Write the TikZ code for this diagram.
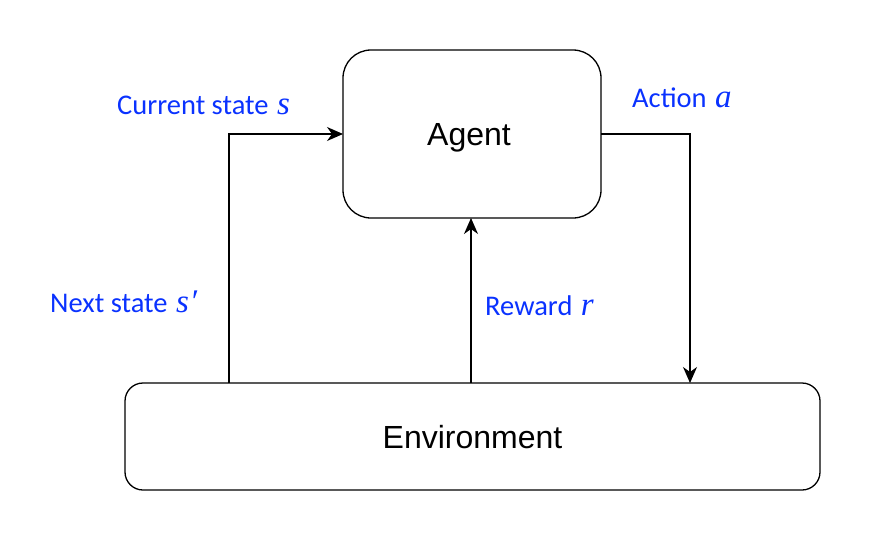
\documentclass[tikz,border=0pt]{standalone}
\usepackage{fontspec}
\setmainfont{Carlito}
\newfontfamily\arialfont{Liberation Sans}
\newfontfamily\varfont{Liberation Serif}
\usetikzlibrary{arrows.meta}
\definecolor{lblue}{RGB}{10,50,255}
\newcommand{\mvar}[1]{{\varfont\itshape\fontsize{33}{36}\selectfont #1}}
\tikzset{
  boxstyle/.style={draw, line width=1.3pt, rounded corners=#1, inner sep=0pt},
  conn/.style={line width=1.3pt, -{Stealth[length=16pt,width=14pt,inset=5pt]}},
  lbl/.style={text=lblue, font=\fontsize{28.5}{30}\selectfont, inner sep=0pt, anchor=base west},
  boxtext/.style={font=\arialfont\fontsize{32}{36}\selectfont, inner sep=0pt, anchor=base}
}
\begin{document}
\begin{tikzpicture}[x=1pt,y=-1pt]
\useasboundingbox (0,0) rectangle (893,544);
\draw[boxstyle=28pt] (343,50) rectangle (601,218);
\node[boxtext] (agent) at (469,145.7) {Agent};
\coordinate (agentL) at (343,134);
\coordinate (agentR) at (601,134);
\coordinate (agentB) at (471,218);
\draw[boxstyle=18pt] (125,383) rectangle (820,490);
\node[boxtext] (env) at (472.5,448.3) {Environment};
\coordinate (envA) at (229,383);
\coordinate (envB) at (471,383);
\coordinate (envC) at (690,383);
\draw[conn] (envA) |- (agentL);
\draw[conn] (agentR) -| (envC);
\draw[conn] (envB) -- (agentB);
\node[lbl] (cs) at (117,114) {Current state\hspace{2pt} \mvar{s}};
\node[lbl] (act) at (632,107) {Action\hspace{2pt} \mvar{a}};
\node[lbl] (ns) at (50,312) {Next state\hspace{2pt} \mvar{s\hspace{1pt}′}};
\node[lbl] (rw) at (485,315) {Reward\hspace{2pt} \mvar{r}};
\end{tikzpicture}
\end{document}
